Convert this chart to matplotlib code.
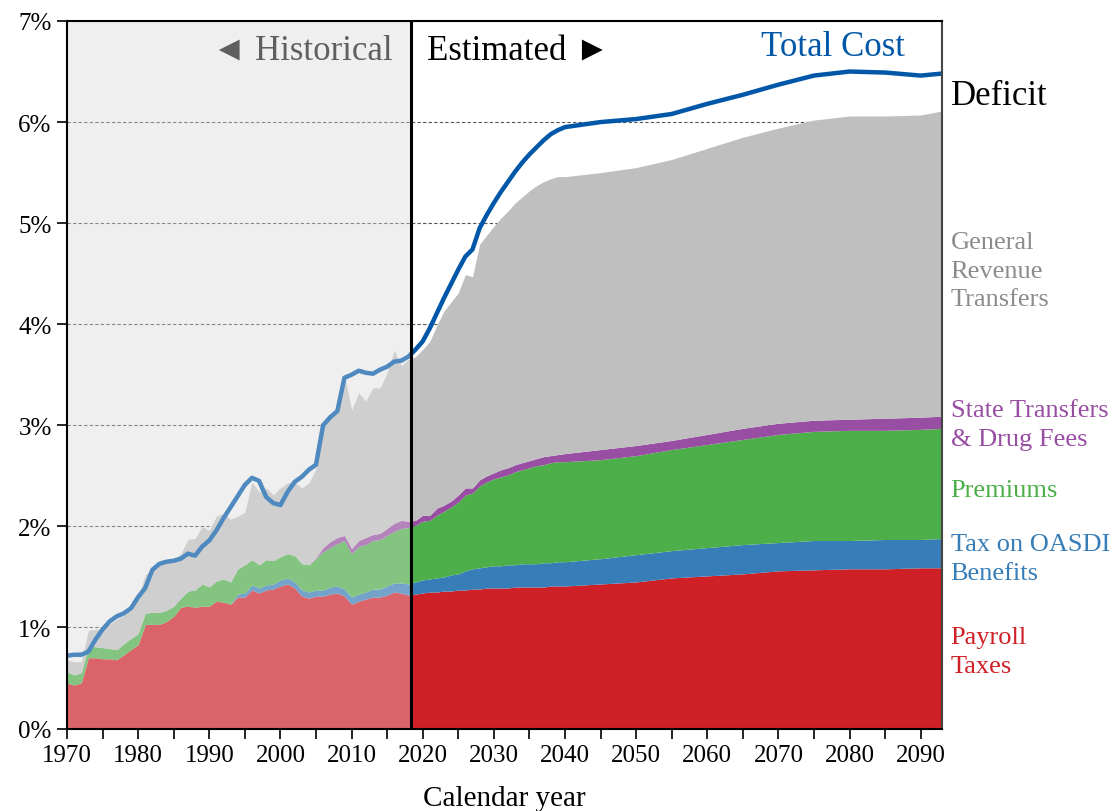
import numpy as np
import matplotlib
matplotlib.use("Agg")
import matplotlib.pyplot as plt
from matplotlib.ticker import MultipleLocator, FuncFormatter

# Medicare-style income/cost, % of GDP; each income list is the cumulative top of its band
years = list(range(1970, 2041)) + [2045, 2050, 2055, 2060, 2065, 2070, 2075, 2080, 2085, 2090, 2093]

payroll_taxes = [
    0.45, 0.43, 0.45, 0.70, 0.70, 0.69, 0.69, 0.68, 0.73, 0.78,
    0.83, 1.03, 1.03, 1.03, 1.06, 1.11, 1.20, 1.21, 1.20, 1.21,
    1.21, 1.26, 1.25, 1.23, 1.30, 1.30, 1.37, 1.34, 1.37, 1.38,
    1.41, 1.43, 1.39, 1.31, 1.29, 1.31, 1.31, 1.33, 1.34, 1.31,
    1.23, 1.26, 1.28, 1.30, 1.30, 1.32, 1.35, 1.34, 1.32, 1.33,
    1.34, 1.35, 1.35, 1.36, 1.36, 1.37, 1.37, 1.38, 1.38, 1.39,
    1.39, 1.39, 1.39, 1.40, 1.40, 1.40, 1.40, 1.40, 1.41, 1.41,
    1.41, 1.43, 1.45, 1.49, 1.51, 1.53, 1.56, 1.57, 1.58, 1.58,
    1.59, 1.59,
]
oasdi_top = [
    0.45, 0.43, 0.45, 0.70, 0.70, 0.69, 0.69, 0.68, 0.73, 0.78,
    0.83, 1.03, 1.03, 1.03, 1.06, 1.11, 1.20, 1.21, 1.20, 1.21,
    1.21, 1.26, 1.25, 1.23, 1.33, 1.34, 1.42, 1.39, 1.42, 1.43,
    1.47, 1.49, 1.45, 1.37, 1.35, 1.37, 1.37, 1.40, 1.41, 1.38,
    1.30, 1.33, 1.35, 1.38, 1.38, 1.41, 1.44, 1.44, 1.43, 1.45,
    1.47, 1.48, 1.49, 1.50, 1.52, 1.53, 1.56, 1.58, 1.59, 1.60,
    1.61, 1.61, 1.62, 1.62, 1.63, 1.63, 1.63, 1.64, 1.64, 1.65,
    1.65, 1.68, 1.72, 1.76, 1.79, 1.82, 1.84, 1.86, 1.86, 1.87,
    1.87, 1.88,
]
premiums_top = [
    0.56, 0.53, 0.55, 0.81, 0.81, 0.80, 0.79, 0.78, 0.84, 0.89,
    0.94, 1.14, 1.15, 1.15, 1.17, 1.21, 1.29, 1.36, 1.37, 1.43,
    1.40, 1.46, 1.48, 1.45, 1.58, 1.62, 1.67, 1.62, 1.67, 1.66,
    1.70, 1.73, 1.71, 1.63, 1.62, 1.68, 1.75, 1.79, 1.83, 1.86,
    1.73, 1.80, 1.82, 1.86, 1.87, 1.91, 1.95, 1.98, 1.99, 2.01,
    2.05, 2.06, 2.11, 2.15, 2.19, 2.24, 2.31, 2.33, 2.40, 2.44,
    2.47, 2.49, 2.51, 2.54, 2.56, 2.58, 2.60, 2.61, 2.63, 2.64,
    2.64, 2.66, 2.70, 2.76, 2.81, 2.86, 2.91, 2.94, 2.95, 2.95,
    2.96, 2.97,
]
state_drug_top = [
    0.56, 0.53, 0.55, 0.81, 0.81, 0.80, 0.79, 0.78, 0.84, 0.89,
    0.94, 1.14, 1.15, 1.15, 1.17, 1.21, 1.29, 1.36, 1.37, 1.43,
    1.40, 1.46, 1.48, 1.45, 1.58, 1.62, 1.67, 1.62, 1.67, 1.66,
    1.70, 1.73, 1.71, 1.63, 1.62, 1.69, 1.79, 1.85, 1.89, 1.91,
    1.78, 1.86, 1.89, 1.92, 1.93, 1.98, 2.03, 2.06, 2.05, 2.06,
    2.11, 2.11, 2.18, 2.21, 2.25, 2.31, 2.38, 2.38, 2.46, 2.50,
    2.53, 2.56, 2.58, 2.61, 2.63, 2.65, 2.67, 2.69, 2.70, 2.71,
    2.72, 2.76, 2.80, 2.85, 2.91, 2.97, 3.02, 3.05, 3.06, 3.07,
    3.08, 3.09,
]
general_revenue_top = [
    0.68, 0.66, 0.66, 0.97, 0.98, 0.99, 1.03, 1.08, 1.12, 1.17,
    1.30, 1.52, 1.57, 1.65, 1.67, 1.68, 1.73, 1.87, 1.88, 2.00,
    1.96, 2.10, 2.13, 2.07, 2.10, 2.14, 2.44, 2.34, 2.38, 2.31,
    2.38, 2.43, 2.44, 2.38, 2.43, 2.57, 3.01, 3.08, 3.13, 3.50,
    3.15, 3.32, 3.24, 3.37, 3.37, 3.52, 3.74, 3.59, 3.65, 3.68,
    3.75, 3.83, 3.99, 4.13, 4.22, 4.31, 4.49, 4.47, 4.79, 4.88,
    4.97, 5.05, 5.12, 5.20, 5.26, 5.32, 5.37, 5.41, 5.44, 5.46,
    5.46, 5.50, 5.55, 5.63, 5.74, 5.85, 5.94, 6.02, 6.06, 6.06,
    6.07, 6.11,
]
total_cost = [
    0.72, 0.73, 0.73, 0.76, 0.88, 0.98, 1.06, 1.11, 1.14, 1.19,
    1.30, 1.39, 1.57, 1.63, 1.65, 1.66, 1.68, 1.73, 1.71, 1.80,
    1.86, 1.96, 2.08, 2.19, 2.30, 2.41, 2.48, 2.45, 2.29, 2.23,
    2.21, 2.34, 2.44, 2.49, 2.56, 2.61, 3.00, 3.08, 3.14, 3.47,
    3.50, 3.54, 3.52, 3.51, 3.55, 3.58, 3.63, 3.64, 3.68, 3.75,
    3.83, 3.96, 4.11, 4.26, 4.40, 4.54, 4.67, 4.74, 4.95, 5.08,
    5.20, 5.31, 5.41, 5.51, 5.60, 5.68, 5.75, 5.82, 5.88, 5.92,
    5.95, 6.00, 6.03, 6.08, 6.18, 6.27, 6.37, 6.46, 6.50, 6.49,
    6.46, 6.48,
]

SPLIT_YEAR = 2018.4

plt.rcParams["font.family"] = ["Liberation Serif", "DejaVu Sans"]

fig = plt.figure(figsize=(11.18, 8.12), dpi=100)
ax = fig.add_axes([67 / 1118, 1 - 729.5 / 812, 875 / 1118, 707.5 / 812])

x = np.array(years, dtype=float)
zero = np.zeros_like(x)
bands = [
    (zero, payroll_taxes, "#D02027"),
    (payroll_taxes, oasdi_top, "#377EB8"),
    (oasdi_top, premiums_top, "#4DAF4A"),
    (premiums_top, state_drug_top, "#984EA3"),
    (state_drug_top, general_revenue_top, "#BFBFBF"),
]
for lo, hi, col in bands:
    ax.fill_between(x, lo, hi, color=col, lw=0, zorder=1)

ax.plot(x, total_cost, color="#0057A8", lw=3.2, solid_joinstyle="round", zorder=2)

# historical period: grey background, and a pale veil to wash out the marks
ax.axvspan(1970, SPLIT_YEAR, color="#EFEFEF", lw=0, zorder=0)
ax.axvspan(1970, SPLIT_YEAR, color="#F0F0F0", alpha=0.33, lw=0, zorder=3)
ax.axvline(SPLIT_YEAR, color="black", lw=2.2, zorder=4)

ax.set_xlim(1970, 2093)
ax.set_ylim(0, 7)
ax.xaxis.set_major_locator(MultipleLocator(10))
ax.xaxis.set_minor_locator(MultipleLocator(5))
ax.yaxis.set_major_locator(MultipleLocator(1))
ax.yaxis.set_major_formatter(FuncFormatter(lambda v, p: f"{v:.0f}%"))
ax.tick_params(axis="both", which="both", direction="out", labelsize=18, width=1.2)
ax.tick_params(axis="both", which="major", length=7, pad=4)
ax.tick_params(axis="x", which="minor", length=7)
ax.set_axisbelow(True)
ax.yaxis.grid(True, linestyle=(0, (3, 2)), color="#555555", lw=0.8)
for s in ax.spines.values():
    s.set_linewidth(1.5)
    s.set_zorder(5)
ax.spines["right"].set_color("#444444")
ax.set_xlabel("Calendar year", fontsize=21, labelpad=14)

ax.text(2015.8, 6.71, "\u25C4 Historical", ha="right", va="center", fontsize=25,
        color="#5F5F5F", zorder=6)
ax.text(2020.6, 6.71, "Estimated \u25BA", ha="left", va="center", fontsize=25,
        color="black", zorder=6)
ax.text(2087.8, 6.75, "Total Cost", ha="right", va="center", fontsize=25,
        color="#0057A8", zorder=6)

lab_x = 2094.2
ax.text(lab_x, 6.26, "Deficit", ha="left", va="center", fontsize=25, color="black", clip_on=False)
side_labels = [
    (4.53, "General\nRevenue\nTransfers", "#8C8C8C"),
    (3.01, "State Transfers\n& Drug Fees", "#984EA3"),
    (2.36, "Premiums", "#4DAF4A"),
    (1.68, "Tax on OASDI\nBenefits", "#377EB8"),
    (0.76, "Payroll\nTaxes", "#D02027"),
]
for yv, txt, col in side_labels:
    ax.text(lab_x, yv, txt, ha="left", va="center", fontsize=19, color=col,
            linespacing=1.38, clip_on=False)

fig.savefig("out.png", dpi=100)
